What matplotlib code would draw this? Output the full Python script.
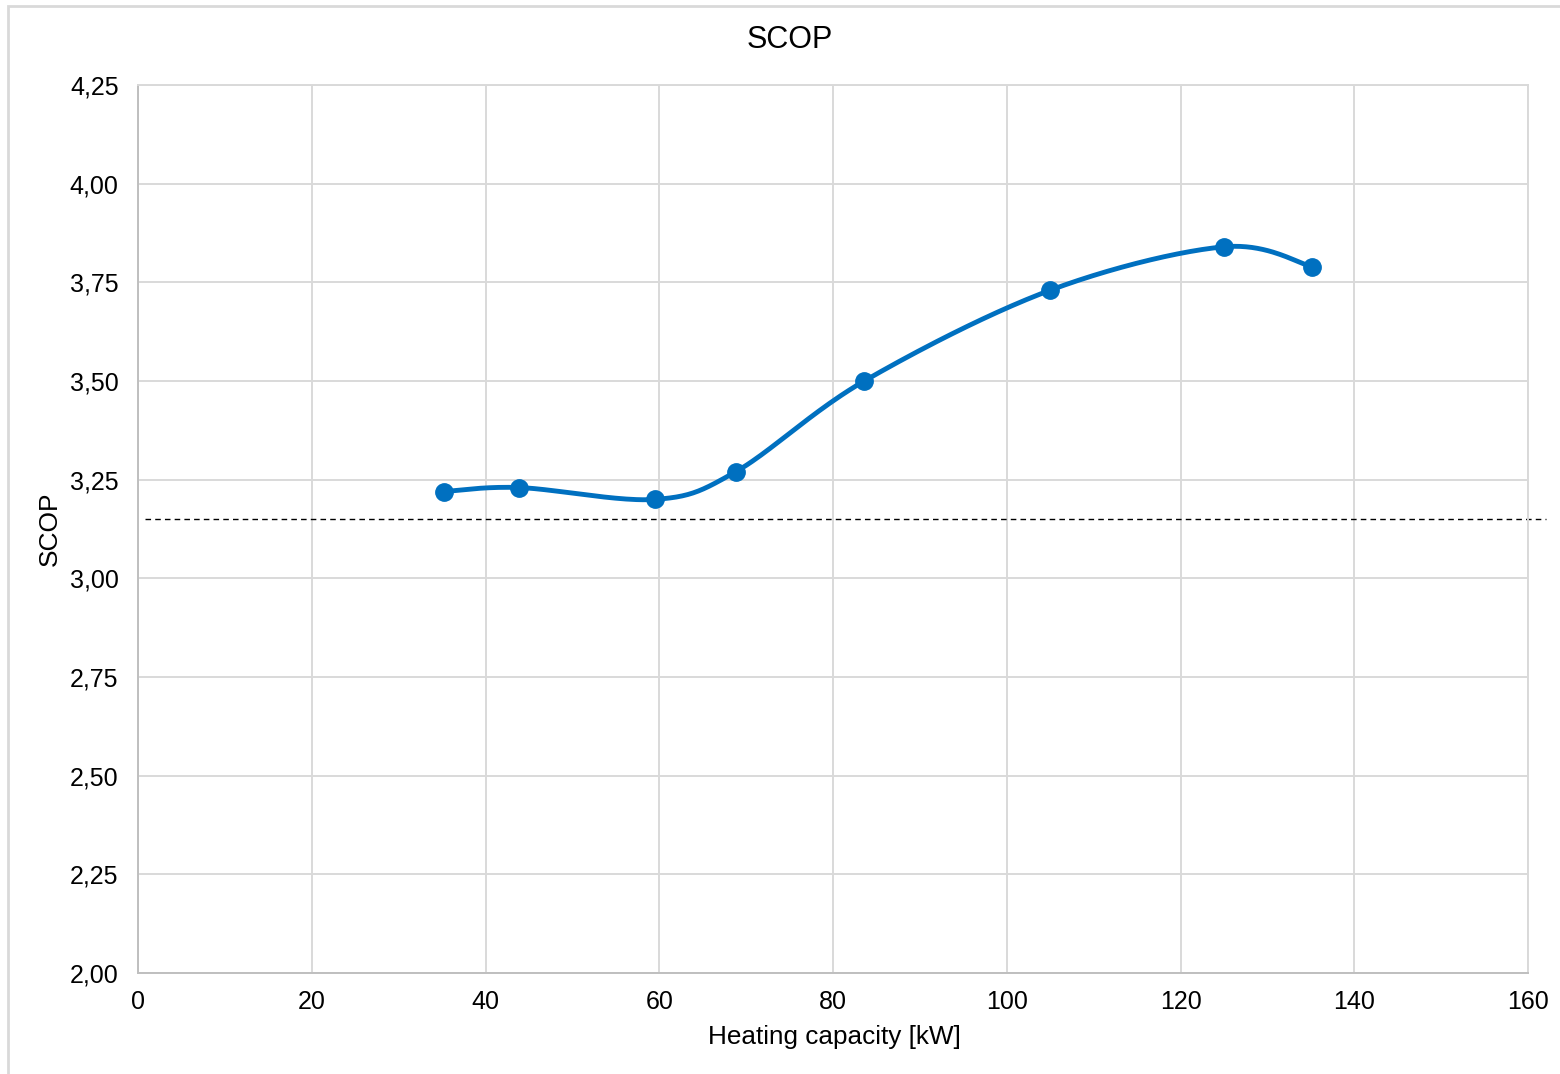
import numpy as np
import matplotlib
matplotlib.use("Agg")
import matplotlib.pyplot as plt
from matplotlib.patches import Rectangle

plt.rcParams['font.family'] = ['Liberation Sans', 'DejaVu Sans']

# heating capacity [kW] and SCOP values
capacity = [35.2, 43.9, 59.5, 68.8, 83.6, 105.0, 125.0, 135.1]
scop = [3.22, 3.23, 3.20, 3.27, 3.50, 3.73, 3.84, 3.79]
scop_limit = 3.15

x_ticks = [0, 20, 40, 60, 80, 100, 120, 140, 160]
y_ticks = [2.00, 2.25, 2.50, 2.75, 3.00, 3.25, 3.50, 3.75, 4.00, 4.25]

blue = '#0070C0'
grid_col = '#d9d9d9'


def smooth_curve(xs, ys, n=40):
    # Catmull-Rom style bezier smoothing between the measured points
    pts = np.column_stack([xs, ys]).astype(float)
    pad = np.vstack([pts[0], pts, pts[-1]])
    out = []
    t = np.linspace(0, 1, n)[:, None]
    for i in range(len(pts) - 1):
        p0, p1, p2, p3 = pad[i], pad[i + 1], pad[i + 2], pad[i + 3]
        c1 = p1 + (p2 - p0) / 6
        c2 = p2 - (p3 - p1) / 6
        seg = ((1 - t) ** 3) * p1 + 3 * ((1 - t) ** 2) * t * c1 \
            + 3 * (1 - t) * t ** 2 * c2 + t ** 3 * p2
        out.append(seg if i == 0 else seg[1:])
    out = np.vstack(out)
    return out[:, 0], out[:, 1]


fig = plt.figure(figsize=(15.6, 10.74), dpi=100)
ax = fig.add_axes([138 / 1560, 1 - 973 / 1074, 1390 / 1560, 888 / 1074])

sx, sy = smooth_curve(capacity, scop)
ax.plot(sx, sy, color=blue, lw=3.5, solid_capstyle='round', zorder=3)
ax.plot(capacity, scop, 'o', color=blue, ms=12.5, zorder=4)

ax.plot([0.8, 162.1], [scop_limit, scop_limit], color='black', lw=1.0,
        ls=(0, (4, 3)), clip_on=False, zorder=2)

ax.set_xlim(0, 160)
ax.set_ylim(2.0, 4.25)
ax.set_xticks(x_ticks)
ax.set_yticks(y_ticks)
ax.set_yticklabels([f'{v:.2f}'.replace('.', ',') for v in y_ticks])
ax.tick_params(length=0, labelsize=18, colors='#000000')
ax.tick_params(axis='y', pad=14)
ax.tick_params(axis='x', pad=12)

ax.grid(True, color=grid_col, lw=1.4)
ax.set_axisbelow(True)
for side in ['top', 'right']:
    ax.spines[side].set_color(grid_col)
    ax.spines[side].set_linewidth(1.4)
for side in ['left', 'bottom']:
    ax.spines[side].set_color('#bfbfbf')
    ax.spines[side].set_linewidth(1.4)

fig.text(790 / 1560, 1 - 40 / 1074, 'SCOP', ha='center', va='center', fontsize=22)
fig.text(50 / 1560, 1 - 529 / 1074, 'SCOP', ha='center', va='center',
         rotation=90, fontsize=19)
fig.text(834 / 1560, 1 - 1037 / 1074, 'Heating capacity [kW]', ha='center',
         va='center', fontsize=18.8)

fig.add_artist(Rectangle((8 / 1560, -0.01), 1560 / 1560, 1 - 6 / 1074 + 0.01,
                         transform=fig.transFigure, fill=False,
                         ec=grid_col, lw=2))

fig.savefig('out.png', dpi=100, facecolor='white')
